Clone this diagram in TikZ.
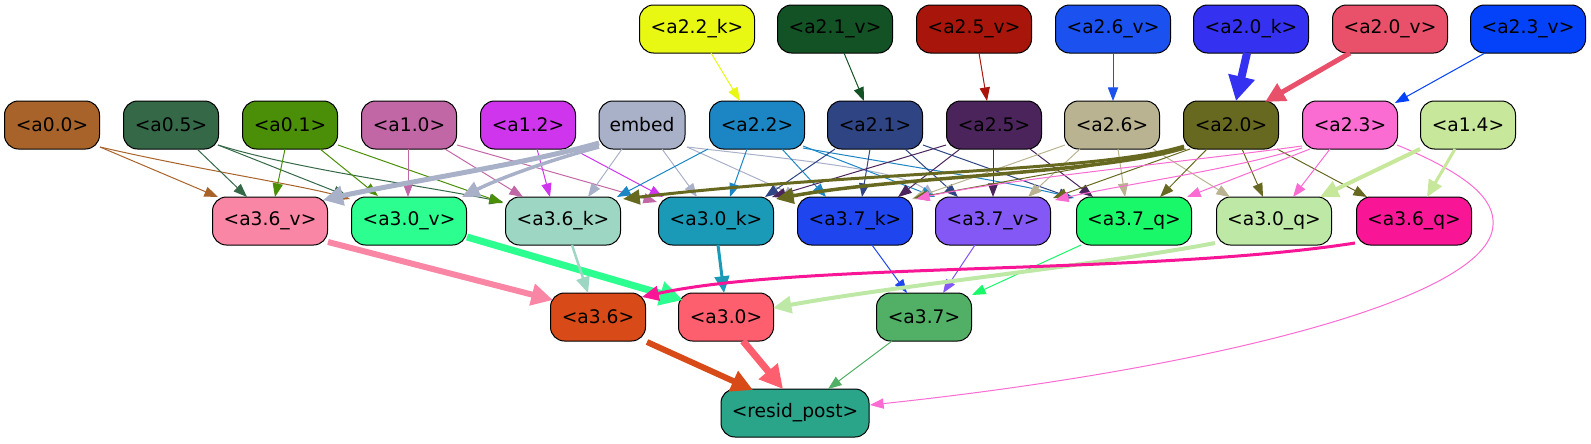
\documentclass[tikz,border=0pt]{standalone}
\usepackage{fontspec}
\setmainfont{DejaVu Sans}
\usetikzlibrary{arrows.meta,calc}
\definecolor{c22k}{HTML}{E8F813}\definecolor{c21v}{HTML}{135224}\definecolor{c25v}{HTML}{A8160B}
\definecolor{c26v}{HTML}{1B52EF}\definecolor{c20k}{HTML}{3531F0}\definecolor{c20v}{HTML}{E9506A}
\definecolor{c23v}{HTML}{0442F9}
\definecolor{c00}{HTML}{A8632A}\definecolor{c05}{HTML}{356847}\definecolor{c01}{HTML}{4A8F07}
\definecolor{c10}{HTML}{C267A5}\definecolor{c12}{HTML}{D035EE}\definecolor{cemb}{HTML}{A9B1C9}
\definecolor{c22}{HTML}{1C86C4}\definecolor{c21}{HTML}{2E4483}\definecolor{c25}{HTML}{4A245A}
\definecolor{c26}{HTML}{BAB391}\definecolor{c20}{HTML}{686920}\definecolor{c23}{HTML}{FB6CD3}
\definecolor{c14}{HTML}{C7E79A}
\definecolor{c36v}{HTML}{F986A4}\definecolor{c30v}{HTML}{2CFF8F}\definecolor{c36k}{HTML}{9DD6C2}
\definecolor{c30k}{HTML}{1A9AB6}\definecolor{c37k}{HTML}{1F45EE}\definecolor{c37v}{HTML}{8458F4}
\definecolor{c37q}{HTML}{19F868}\definecolor{c30q}{HTML}{BDE8A5}\definecolor{c36q}{HTML}{F81696}
\definecolor{c36}{HTML}{D84A18}\definecolor{c30}{HTML}{FE5F6F}\definecolor{c37}{HTML}{51B066}
\definecolor{cres}{HTML}{2AA58A}
\tikzset{
 nd/.style={draw=black, line width=0.75pt, rounded corners=10.5pt, minimum height=36pt,
   inner sep=0pt, font=\fontsize{14}{16}\selectfont, text=black},
 wA/.style={minimum width=86.25pt},
 wB/.style={minimum width=71.25pt},
 ew/.code={\pgfmathsetmacro\ewL{(12+1.6*#1)*0.75}\pgfmathsetmacro\ewW{(8+2.2*#1)*0.75}%
   \pgfmathsetmacro\ewLW{#1*0.75}%
   \edef\ewtmp{\noexpand\tikzset{line width=\ewLW pt,-{Triangle[length=\ewL pt,width=\ewW pt]}}}\ewtmp},
 e/.style 2 args={draw=#1, ew=#2}
}
\begin{document}
\begin{tikzpicture}[x=0.75pt,y=-0.75pt]
\useasboundingbox (0,0) rectangle (1591,443);
% row 1
\node[nd,wA,fill=c22k] (n22k) at (697,29) {<a2.2\_k>};
\node[nd,wA,fill=c21v] (n21v) at (835,29) {<a2.1\_v>};
\node[nd,wA,fill=c25v] (n25v) at (974,29) {<a2.5\_v>};
\node[nd,wA,fill=c26v] (n26v) at (1113,29) {<a2.6\_v>};
\node[nd,wA,fill=c20k] (n20k) at (1251,29) {<a2.0\_k>};
\node[nd,wA,fill=c20v] (n20v) at (1390,29) {<a2.0\_v>};
\node[nd,wA,fill=c23v] (n23v) at (1528,29) {<a2.3\_v>};
% row 2
\node[nd,wB,fill=c00] (a00) at (52,125) {<a0.0>};
\node[nd,wB,fill=c05] (a05) at (171,125) {<a0.5>};
\node[nd,wB,fill=c01] (a01) at (290,125) {<a0.1>};
\node[nd,wB,fill=c10] (a10) at (409,125) {<a1.0>};
\node[nd,wB,fill=c12] (a12) at (528,125) {<a1.2>};
\node[nd,minimum width=64.5pt,fill=cemb] (emb) at (642,125) {embed};
\node[nd,wB,fill=c22] (a22) at (757,125) {<a2.2>};
\node[nd,wB,fill=c21] (a21) at (875,125) {<a2.1>};
\node[nd,wB,fill=c25] (a25) at (994,125) {<a2.5>};
\node[nd,wB,fill=c26] (a26) at (1112,125) {<a2.6>};
\node[nd,wB,fill=c20] (a20) at (1231,125) {<a2.0>};
\node[nd,wB,fill=c23] (a23) at (1350,125) {<a2.3>};
\node[nd,wB,fill=c14] (a14) at (1468,125) {<a1.4>};
% row 3
\node[nd,wA,fill=c36v] (b36v) at (270,221) {<a3.6\_v>};
\node[nd,wA,fill=c30v] (b30v) at (409,221) {<a3.0\_v>};
\node[nd,wA,fill=c36k] (b36k) at (563,221) {<a3.6\_k>};
\node[nd,wA,fill=c30k] (b30k) at (716,221) {<a3.0\_k>};
\node[nd,wA,fill=c37k] (b37k) at (855,221) {<a3.7\_k>};
\node[nd,wA,fill=c37v] (b37v) at (993,221) {<a3.7\_v>};
\node[nd,wA,fill=c37q] (b37q) at (1134,221) {<a3.7\_q>};
\node[nd,wA,fill=c30q] (b30q) at (1274,221) {<a3.0\_q>};
\node[nd,wA,fill=c36q] (b36q) at (1414,221) {<a3.6\_q>};
% row 4
\node[nd,wB,fill=c36] (c36) at (598,317) {<a3.6>};
\node[nd,wB,fill=c30] (c30) at (726,317) {<a3.0>};
\node[nd,wB,fill=c37] (c37) at (924,317) {<a3.7>};
\node[nd,minimum width=111pt,fill=cres] (res) at (795,413) {<resid\_post>};
% row1 -> row2
\draw[e={c22k}{1}] ($(n22k)+(14,24)$) -- ($(a22)+(-17,-24)$);
\draw[e={c21v}{1}] ($(n21v)+(9,24)$) -- ($(a21)+(-11,-24)$);
\draw[e={c25v}{1}] ($(n25v)+(5,24)$) -- ($(a25)+(-7,-24)$);
\draw[e={c26v}{1}] ($(n26v)+(0,24)$) -- ($(a26)+(1,-24)$);
\draw[e={c20k}{8}] ($(n20k)+(-4,24)$) -- ($(a20)+(5,-24)$);
\draw[e={c20v}{5}] ($(n20v)+(-40,24)$) -- ($(a20)+(34,-23)$);
\draw[e={c23v}{1}] ($(n23v)+(-43,24)$) -- ($(a23)+(45,-22)$);
% a0.0
\draw[e={c00}{1}] ($(a00)+(48,22)$) -- ($(b36v)+(-52,-24)$);
\draw[e={c00}{1}] ($(a00)+(48,22)$) .. controls (200,170) and (300,185) .. ($(b30v)+(-59,-22)$);
% a0.5
\draw[e={c05}{1}] ($(a05)+(26,24)$) -- ($(b36v)+(-23,-24)$);
\draw[e={c05}{1}] ($(a05)+(47,20)$) -- ($(b30v)+(-62,-25)$);
\draw[e={c05}{1}] ($(a05)+(47,20)$) .. controls (300,170) and (420,185) .. ($(b36k)+(-60,-19)$);
% a0.1
\draw[e={c01}{1}] ($(a01)+(-5,24)$) -- ($(b36v)+(5,-24)$);
\draw[e={c01}{1}] ($(a01)+(30,24)$) -- ($(b30v)+(-31,-25)$);
\draw[e={c01}{1}] ($(a01)+(48,20)$) -- ($(b36k)+(-60,-18)$);
% a1.0
\draw[e={c10}{1}] ($(a10)+(-1,24)$) -- ($(b30v)+(-1,-24)$);
\draw[e={c10}{1}] ($(a10)+(36,24)$) -- ($(b36k)+(-40,-24)$);
\draw[e={c10}{1}] ($(a10)+(48,20)$) -- ($(b30k)+(-59,-19)$);
% a1.2
\draw[e={c12}{1}] ($(a12)+(9,24)$) -- ($(b36k)+(-13,-24)$);
\draw[e={c12}{1}] ($(a12)+(45,24)$) -- ($(b30k)+(-53,-24)$);
% embed
\draw[e={cemb}{5}] ($(emb)+(-43,18)$) .. controls (530,163) and (400,183) .. ($(b36v)+(53,-21)$);
\draw[e={cemb}{3.5}] ($(emb)+(-43,22)$) .. controls (550,160) and (500,178) .. ($(b30v)+(53,-24)$);
\draw[e={cemb}{1}] ($(emb)+(-20,24)$) -- ($(b36k)+(25,-24)$);
\draw[e={cemb}{1}] ($(emb)+(20,24)$) -- ($(b30k)+(-19,-24)$);
\draw[e={cemb}{1}] ($(emb)+(45,22)$) -- ($(b37k)+(-57,-24)$);
\draw[e={cemb}{1}] ($(emb)+(45,22)$) .. controls (800,160) and (900,170) .. ($(b37v)+(-58,-24)$);
% a2.2
\draw[e={c22}{1}] ($(a22)+(-49,24)$) -- ($(b36k)+(54,-24)$);
\draw[e={c22}{1}] ($(a22)+(-10,24)$) -- ($(b30k)+(14,-24)$);
\draw[e={c22}{1}] ($(a22)+(25,24)$) -- ($(b37k)+(-29,-24)$);
\draw[e={c22}{1}] ($(a22)+(46,21)$) -- ($(b37v)+(-58,-24)$);
\draw[e={c22}{1}] ($(a22)+(46,23)$) .. controls (900,165) and (1000,180) .. ($(b37q)+(-60,-23)$);
% a2.1
\draw[e={c21}{1}] ($(a21)+(-40,24)$) -- ($(b30k)+(49,-24)$);
\draw[e={c21}{1}] ($(a21)+(-5,24)$) -- ($(b37k)+(7,-24)$);
\draw[e={c21}{1}] ($(a21)+(30,24)$) -- ($(b37v)+(-35,-24)$);
\draw[e={c21}{1}] ($(a21)+(48,20)$) -- ($(b37q)+(-62,-23)$);
% a2.5
\draw[e={c25}{1}] ($(a25)+(-48,20)$) -- ($(b30k)+(56,-24)$);
\draw[e={c25}{1}] ($(a25)+(-34,24)$) -- ($(b37k)+(43,-24)$);
\draw[e={c25}{1}] ($(a25)+(-1,24)$) -- ($(b37v)+(0,-24)$);
\draw[e={c25}{1}] ($(a25)+(36,24)$) -- ($(b37q)+(-41,-24)$);
% a2.6
\draw[e={c26}{1}] ($(a26)+(-47,20)$) -- ($(b37k)+(57,-22)$);
\draw[e={c26}{1}] ($(a26)+(-32,24)$) -- ($(b37v)+(35,-24)$);
\draw[e={c26}{1}] ($(a26)+(6,24)$) -- ($(b37q)+(-9,-24)$);
\draw[e={c26}{1}] ($(a26)+(41,24)$) -- ($(b30q)+(-44,-24)$);
% a2.0
\draw[e={c20}{3}] ($(a20)+(-47,21)$) .. controls (1100,172) and (850,172) .. ($(b36k)+(60,-22)$);
\draw[e={c20}{3.5}] ($(a20)+(-47,23)$) .. controls (1100,174) and (900,176) .. ($(b30k)+(60,-22)$);
\draw[e={c20}{1}] ($(a20)+(-45,24)$) -- ($(b37k)+(59,-23)$);
\draw[e={c20}{1}] ($(a20)+(-41,24)$) -- ($(b37v)+(60,-23)$);
\draw[e={c20}{1}] ($(a20)+(-24,24)$) -- ($(b37q)+(26,-24)$);
\draw[e={c20}{1}] ($(a20)+(11,24)$) -- ($(b30q)+(-11,-24)$);
\draw[e={c20}{1}] ($(a20)+(46,24)$) -- ($(b36q)+(-47,-24)$);
% a2.3
\draw[e={c23}{1}] ($(a23)+(-48,21)$) .. controls (1200,160) and (1000,180) .. ($(b37k)+(61,-22)$);
\draw[e={c23}{1}] ($(a23)+(-48,23)$) .. controls (1230,170) and (1120,185) .. ($(b37v)+(62,-21)$);
\draw[e={c23}{1}] ($(a23)+(-40,24)$) -- ($(b37q)+(53,-24)$);
\draw[e={c23}{1}] ($(a23)+(-20,24)$) -- ($(b30q)+(19,-24)$);
\draw[e={c23}{1}] ($(a23)+(47,20)$) .. controls (1470,175) and (1495,200) .. (1493,225)
   .. controls (1490,300) and (1200,370) .. ($(res)+(75,-8)$);
% a1.4
\draw[e={c14}{4}] ($(a14)+(-48,24)$) -- ($(b30q)+(46,-24)$);
\draw[e={c14}{3}] ($(a14)+(-13,24)$) -- ($(b36q)+(13,-24)$);
% row3 -> row4
\draw[e={c36v}{6}] ($(b36v)+(58,21)$) -- ($(c36)+(-45,-17)$);
\draw[e={c30v}{7}] ($(b30v)+(58,16)$) -- ($(c30)+(-43,-17)$);
\draw[e={c36k}{2.5}] ($(b36k)+(9,24)$) -- ($(c36)+(-10,-24)$);
\draw[e={c30k}{3}] ($(b30k)+(2,24)$) -- ($(c30)+(-2,-24)$);
\draw[e={c37k}{1}] ($(b37k)+(17,24)$) -- ($(c37)+(-17,-24)$);
\draw[e={c37v}{1}] ($(b37v)+(-18,24)$) -- ($(c37)+(19,-24)$);
\draw[e={c37q}{1}] ($(b37q)+(-53,24)$) -- ($(c37)+(48,-22)$);
\draw[e={c30q}{4}] ($(b30q)+(-59,22)$) .. controls (1100,265) and (900,285) .. ($(c30)+(47,-9)$);
\draw[e={c36q}{3}] ($(b36q)+(-59,22)$) .. controls (1150,275) and (800,262) .. ($(c36)+(44,-20)$);
% row4 -> resid
\draw[e={c36}{6}] ($(c36)+(49,25)$) -- ($(res)+(-42,-23)$);
\draw[e={c30}{7}] ($(c30)+(17,24)$) -- ($(res)+(-12,-24)$);
\draw[e={c37}{1}] ($(c37)+(-32,24)$) -- ($(res)+(33,-24)$);
\end{tikzpicture}
\end{document}
